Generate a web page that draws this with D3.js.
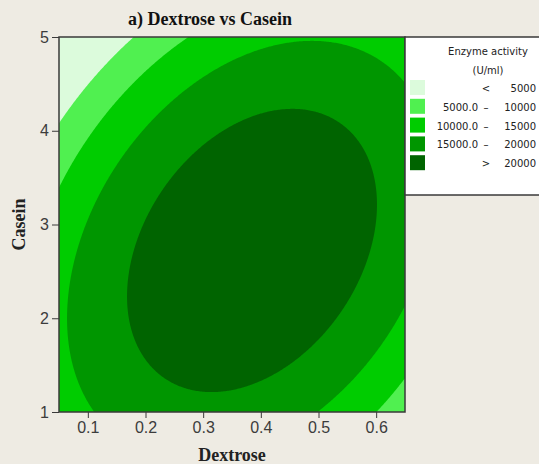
<!DOCTYPE html>
<html>
<head>
<meta charset="utf-8">
<script src="https://cdn.jsdelivr.net/npm/d3@7"></script>
<style>
  html, body { margin: 0; padding: 0; background: #eeebe3; }
  svg { display: block; }
</style>
</head>
<body>
<div id="vis_contour"></div>
<script>
// Axis ranges and ticks
const dextroseRange = [0.05, 0.65];
const caseinRange = [1, 5];
const dextroseTicks = [0.1, 0.2, 0.3, 0.4, 0.5, 0.6];
const caseinTicks = [1, 2, 3, 4, 5];

// Contour levels (U/ml) and their fills, lowest band first
const levels = [5000, 10000, 15000, 20000];
const bandColors = ["#dcfbdc", "#50f050", "#00cc00", "#009600", "#006400"];
const legendLeft = ["", "5000.0", "10000.0", "15000.0", ""];
const legendSign = ["<", "\u2013", "\u2013", "\u2013", ">"];
// right column as far as it shows inside the picture
const legendRight = ["5000", "10000", "15000", "20000", "20000"];

// Fitted response surface: const, D, C, D^2, C^2, D*C
const modelCoefs = [3897, 51580, 7625, -99900, -2056, 9285];

const width = 539;
const height = 464;
const plot = { left: 59, right: 405, top: 37, bottom: 412 };

const SVG1 = d3.select("#vis_contour").append("svg")
  .attr("width", width)
  .attr("height", height);

SVG1.append("rect")
  .attr("width", width)
  .attr("height", height)
  .attr("fill", "#eeebe3");

const x = d3.scaleLinear().domain(dextroseRange).range([plot.left, plot.right]);
const y = d3.scaleLinear().domain(caseinRange).range([plot.bottom, plot.top]);

function enzyme(d, c) {
  const b = modelCoefs;
  return b[0] + b[1] * d + b[2] * c + b[3] * d * d + b[4] * c * c + b[5] * d * c;
}

// Grid over the plot area, row 0 at the top
const nx = 280;
const ny = 280;
const grid = new Array(nx * ny);
for (let j = 0; j < ny; j++) {
  const c = caseinRange[1] - (j / (ny - 1)) * (caseinRange[1] - caseinRange[0]);
  for (let i = 0; i < nx; i++) {
    const d = dextroseRange[0] + (i / (nx - 1)) * (dextroseRange[1] - dextroseRange[0]);
    grid[j * nx + i] = enzyme(d, c);
  }
}

const contours = d3.contours().size([nx, ny]).thresholds(levels)(grid);

const gx = d3.scaleLinear().domain([0.5, nx - 0.5]).range([plot.left, plot.right]);
const gy = d3.scaleLinear().domain([0.5, ny - 0.5]).range([plot.top, plot.bottom]);
const path = d3.geoPath(d3.geoTransform({
  point: function (px, py) { this.stream.point(gx(px), gy(py)); }
}));

SVG1.append("clipPath")
  .attr("id", "plotClip")
  .append("rect")
  .attr("x", plot.left)
  .attr("y", plot.top)
  .attr("width", plot.right - plot.left)
  .attr("height", plot.bottom - plot.top);

const area = SVG1.append("g").attr("clip-path", "url(#plotClip)");

area.append("rect")
  .attr("x", plot.left)
  .attr("y", plot.top)
  .attr("width", plot.right - plot.left)
  .attr("height", plot.bottom - plot.top)
  .attr("fill", bandColors[0]);

area.selectAll("path.band")
  .data(contours)
  .enter()
  .append("path")
  .attr("class", "band")
  .attr("d", path)
  .attr("fill", (d, i) => bandColors[i + 1]);

// Frame
SVG1.append("rect")
  .attr("x", plot.left)
  .attr("y", plot.top)
  .attr("width", plot.right - plot.left)
  .attr("height", plot.bottom - plot.top)
  .attr("fill", "none")
  .attr("stroke", "#3a3a3a")
  .attr("stroke-width", 1.5);

// Axes
const xAxis = SVG1.append("g")
  .attr("transform", "translate(0," + plot.bottom + ")")
  .call(d3.axisBottom(x).tickValues(dextroseTicks).tickSize(6).tickPadding(4).tickFormat(d3.format(".1f")));

const yAxis = SVG1.append("g")
  .attr("transform", "translate(" + plot.left + ",0)")
  .call(d3.axisLeft(y).tickValues(caseinTicks).tickSize(7).tickPadding(3).tickFormat(d3.format("d")));

[xAxis, yAxis].forEach(function (ax) {
  ax.select(".domain").remove();
  ax.selectAll(".tick line").attr("stroke", "#3a3a3a");
  ax.selectAll(".tick text")
    .attr("fill", "#3c3c3c")
    .style("font-family", "'Liberation Sans', Arial, sans-serif")
    .style("font-size", "16px");
});

// Titles
SVG1.append("text")
  .attr("x", 210)
  .attr("y", 25)
  .attr("text-anchor", "middle")
  .style("font-family", "'Liberation Serif', serif")
  .style("font-weight", "bold")
  .style("font-size", "18px")
  .attr("fill", "#111")
  .text("a) Dextrose vs Casein");

SVG1.append("text")
  .attr("x", (plot.left + plot.right) / 2)
  .attr("y", 461)
  .attr("text-anchor", "middle")
  .style("font-family", "'Liberation Serif', serif")
  .style("font-weight", "bold")
  .style("font-size", "18px")
  .attr("fill", "#222")
  .text("Dextrose");

SVG1.append("text")
  .attr("transform", "translate(25," + (plot.top + plot.bottom) / 2 + ") rotate(-90)")
  .attr("text-anchor", "middle")
  .style("font-family", "'Liberation Serif', serif")
  .style("font-weight", "bold")
  .style("font-size", "18px")
  .attr("fill", "#222")
  .text("Casein");

// Legend
const legend = SVG1.append("g").attr("class", "legend");

legend.append("rect")
  .attr("x", plot.right)
  .attr("y", 37)
  .attr("width", 160)
  .attr("height", 158)
  .attr("fill", "#ffffff")
  .attr("stroke", "#3a3a3a")
  .attr("stroke-width", 1.5);

legend.selectAll("text.head")
  .data(["Enzyme activity", "(U/ml)"])
  .enter()
  .append("text")
  .attr("class", "head")
  .attr("x", 488)
  .attr("y", (d, i) => 55 + i * 19)
  .attr("text-anchor", "middle")
  .style("font-family", "'DejaVu Sans', sans-serif")
  .style("font-size", "10px")
  .attr("fill", "#222")
  .text(d => d);

const rows = legend.selectAll("g.row")
  .data(bandColors)
  .enter()
  .append("g")
  .attr("class", "row")
  .attr("transform", (d, i) => "translate(0," + (i * 18.8) + ")");

rows.append("rect")
  .attr("x", 410)
  .attr("y", 80)
  .attr("width", 15)
  .attr("height", 15)
  .attr("fill", d => d);

function legendText(sel, xPos, anchor, labels) {
  sel.append("text")
    .attr("x", xPos)
    .attr("y", 92)
    .attr("text-anchor", anchor)
    .style("font-family", "'DejaVu Sans', sans-serif")
    .style("font-size", "10px")
    .attr("fill", "#222")
    .text((d, i) => labels[i]);
}

legendText(rows, 478, "end", legendLeft);
legendText(rows, 486, "middle", legendSign);
legendText(rows, 536, "end", legendRight);
</script>
</body>
</html>
